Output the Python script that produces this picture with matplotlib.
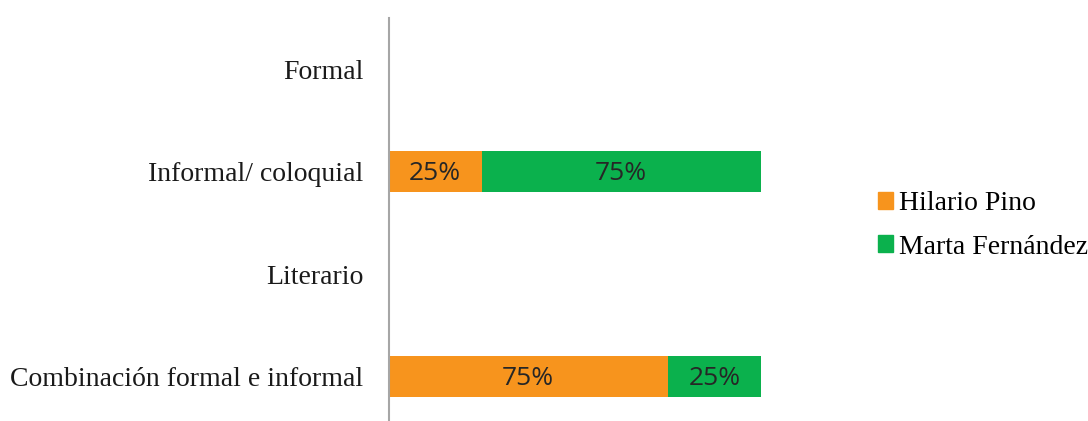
import matplotlib.pyplot as plt
from matplotlib.patches import Patch

# datos
categorias = ['Formal', 'Informal/ coloquial', 'Literario', 'Combinación formal e informal']
hilario = [0, 0.25, 0, 0.75]
marta = [0, 0.75, 0, 0.25]
series = ['Hilario Pino', 'Marta Fernández']
colores = ['#F7941D', '#0BB14D']

fig = plt.figure(figsize=(10.88, 4.21), dpi=100)
ax = fig.add_axes([388.5 / 1088, 0, 372.5 / 1088, (421 - 17.75) / 421])

pos = [3, 2, 1, 0]
b1 = ax.barh(pos, hilario, height=0.4, color=colores[0])
b2 = ax.barh(pos, marta, left=hilario, height=0.4, color=colores[1])

for barras, vals in [(b1, hilario), (b2, marta)]:
    for b, v in zip(barras, vals):
        if v > 0:
            ax.annotate(f'{v:.0%}', (b.get_x() + b.get_width() / 2, b.get_y() + b.get_height() / 2),
                        xytext=(0, -1.5), textcoords='offset points',
                        ha='center', va='center', fontsize=19,
                        family='Open Sans', color='#262626')

ax.set_xlim(0, 1)
ax.set_ylim(-0.434, 3.5)
ax.set_yticks(pos)
ax.set_yticklabels(categorias, family='Liberation Serif', fontsize=20, color='#1a1a1a')
ax.tick_params(axis='y', length=0, pad=18)
ax.set_xticks([])
for s in ['top', 'right', 'bottom']:
    ax.spines[s].set_visible(False)
ax.spines['left'].set_color('#A6A6A6')
ax.spines['left'].set_linewidth(1.5)

handles = [Patch(color=c) for c in colores]
fig.legend(handles, series, loc='center left', bbox_to_anchor=(878 / 1088, 1 - 225.5 / 421),
           frameon=False, borderpad=0, borderaxespad=0, handlelength=0.55, handleheight=0.55,
           handletextpad=0.2, labelspacing=0.65,
           prop={'family': 'Liberation Serif', 'size': 20})

plt.savefig('out.png', dpi=100)
